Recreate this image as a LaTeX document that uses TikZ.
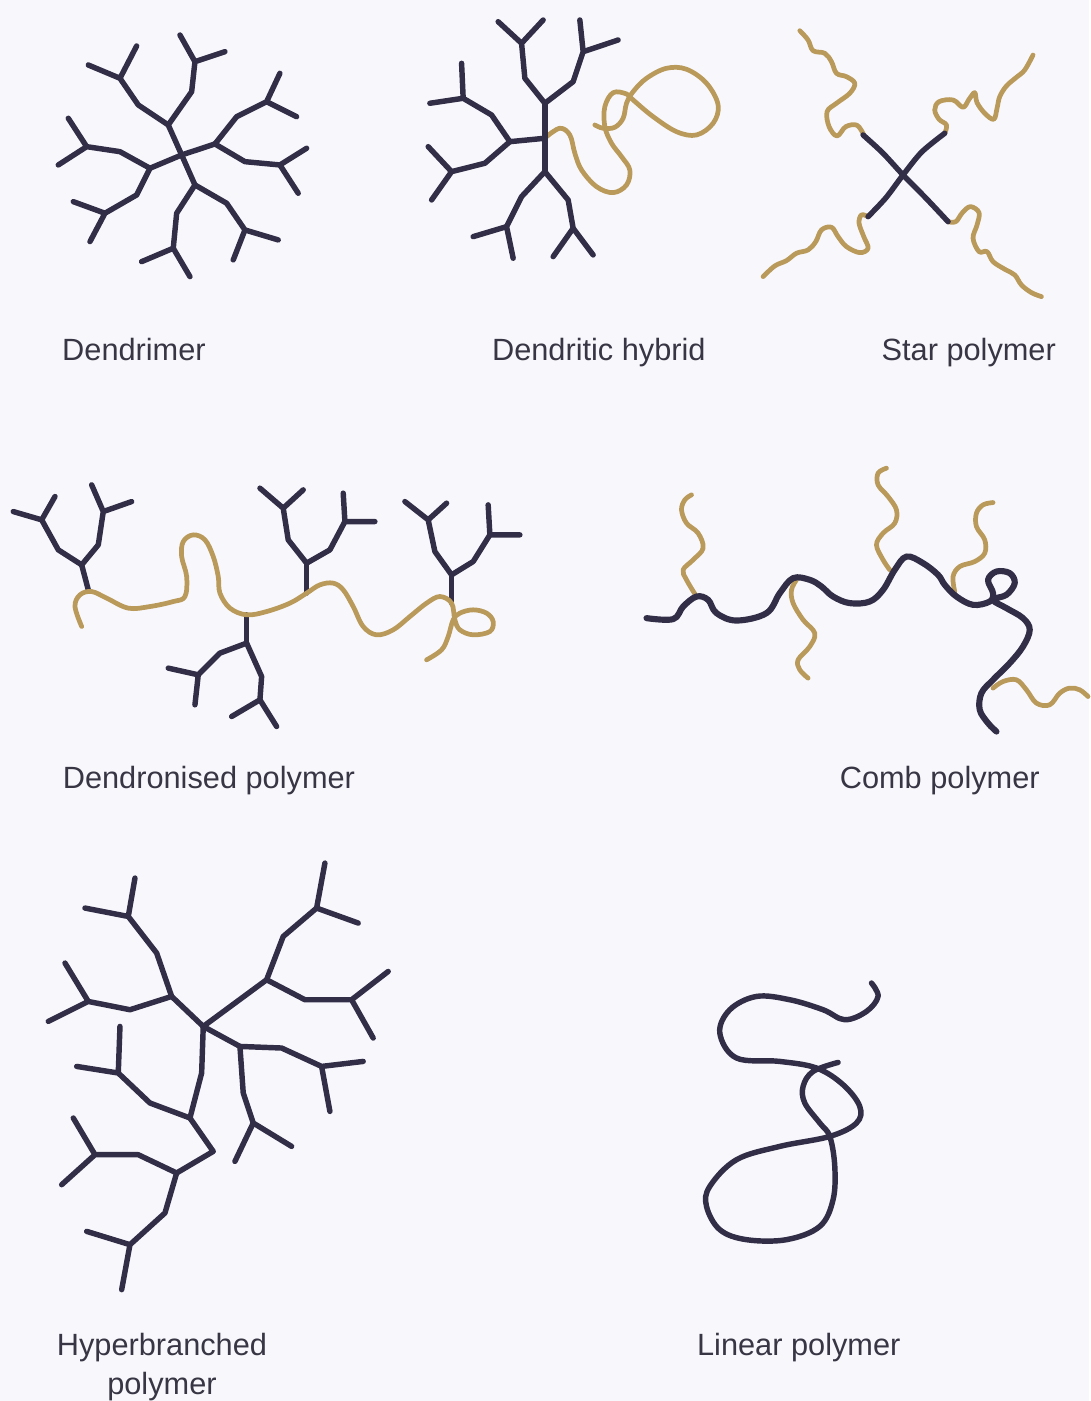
\documentclass[tikz,border=0pt]{standalone}
\usepackage{fontspec}
\setmainfont{Liberation Sans}
\definecolor{paper}{RGB}{248,248,252}
\definecolor{navy}{RGB}{50,46,72}
\definecolor{ochre}{RGB}{186,154,90}
\definecolor{ink}{RGB}{56,53,68}

\begin{document}
\begin{tikzpicture}[x=0.02cm,y=-0.02cm,
  core/.style={draw=navy,line width=3.1pt,line join=round,line cap=round},
  chain/.style={draw=ochre,line width=2.7pt,line join=round,line cap=round},
  tag/.style={text=ink,font=\fontsize{17.5}{21}\selectfont,anchor=base,inner sep=0pt}]
  \fill[paper] (0,0) rectangle (1089,1401);

  % dendrimer
  \draw[core] (150,168.3) -- (181.7,155) -- (215,144);
  \draw[core] (168.3,125) -- (181.7,155) -- (195,185);
  \draw[core] (168.3,125) -- (138.3,105) -- (120,78.3) (88.3,65) -- (120,78.3) -- (136.7,46);
  \draw[core] (168.3,125) -- (191.7,91.7) -- (195,61.7) (180,35) -- (195,61.7) -- (225,51.7);
  \draw[core] (215,144) -- (236.7,116.7) -- (266.7,101.7) (280,73.3) -- (266.7,101.7) -- (296.7,116.7);
  \draw[core] (215,144) -- (245,161.7) -- (280,165) (306.7,148.3) -- (280,165) -- (298.3,193.3);
  \draw[core] (195,185) -- (226.7,203.3) -- (245,230) (278.3,240) -- (245,230) -- (233.3,260);
  \draw[core] (195,185) -- (176.7,213.3) -- (173.3,248.3) (141.7,261.7) -- (173.3,248.3) -- (190,276.7);
  \draw[core] (150,168.3) -- (136.7,195) -- (105,213.3) (73.3,201.7) -- (105,213.3) -- (90,241.7);
  \draw[core] (150,168.3) -- (120,151.7) -- (86.7,146.7) (68.3,118.3) -- (86.7,146.7) -- (58.3,165);
  \node[tag] (dendrimer) at (134,361) {Dendrimer};

  % dendritic hybrid
  \draw[chain] plot[smooth,tension=0.6] coordinates {(546.7,136.7) (560,128.3) (570,135) (575,153.3)
    (581.7,170) (596.7,186.7) (613.3,192.7) (626.7,185) (630,170) (621.7,156.7) (611.7,143.3)
    (605,126.7) (605,106.7) (613.3,92.7) (626.7,94) (633.3,100) (653.3,116.7) (676.7,131.7)
    (696.7,135) (713.3,123.3) (718.3,105) (706.7,83.3) (686.7,69.3) (666.7,68.3) (646.7,78.3)
    (633.3,91.7) (626.7,103.3) (623.3,118.3) (615,127.3) (603.3,128.3) (595,125)};
  \draw[core] (545,103.3) -- (545,171.7);
  \draw[core] (510,141.7) -- (545,138.3);
  \draw[core] (545,103.3) -- (525,78.3) -- (521.7,43.3) (498.3,21.7) -- (521.7,43.3) -- (543.3,20);
  \draw[core] (545,103.3) -- (573.3,81.7) -- (583.3,51.7) (580,20) -- (583.3,51.7) -- (618.3,40);
  \draw[core] (510,141.7) -- (491.7,115) -- (463.3,98.3) (461.7,63.3) -- (463.3,98.3) -- (430,103.3);
  \draw[core] (510,141.7) -- (485,163.3) -- (451.7,171.7) (428.3,146.7) -- (451.7,171.7) -- (431.7,200);
  \draw[core] (545,171.7) -- (521.7,196.7) -- (506.7,226.7) (473.3,236.7) -- (506.7,226.7) -- (513.3,258.3);
  \draw[core] (545,171.7) -- (568.3,200) -- (573.3,228.3) (553.3,256.7) -- (573.3,228.3) -- (593.3,255);
  \node[tag] (hybrid) at (599,361) {Dendritic hybrid};

  % star polymer
  \draw[chain] plot[smooth,tension=0.6] coordinates {(864,135) (857.3,125.3) (846,126.7) (837.3,136)
    (829.3,126.7) (827.3,111.7) (836.7,103.3) (850,93.3) (855,83.3) (846.7,76.7) (836.7,73.3)
    (831.7,61.7) (825,53.3) (813.3,50.7) (808.3,40) (800,30.7)};
  \draw[chain] plot[smooth,tension=0.6] coordinates {(945,133.3) (946.7,125) (939.3,119.3) (935,110)
    (939.3,101.7) (953.3,100) (963.3,107.3) (969.3,99.3) (975,92.7) (977.3,102.7) (985,113.3)
    (994,119.3) (997.3,108.3) (1000,96.7) (1006.7,86) (1016.7,77.3) (1025,70) (1033.3,55)};
  \draw[chain] plot[smooth,tension=0.6] coordinates {(868.3,216.7) (861.7,215) (859.3,223.3) (864,236.7)
    (868.3,248.3) (860,252.7) (846.7,246.7) (838.3,236.7) (831.7,227.3) (821.7,230) (816,241.7)
    (808.3,250) (796.7,253.3) (786.7,260.7) (775,266) (763.3,276.7)};
  \draw[chain] plot[smooth,tension=0.6] coordinates {(948.3,221.7) (956,221.7) (962.7,212.7) (970.7,206.7)
    (979.3,212.7) (977.3,225) (973.3,238.3) (979.3,251.7) (987.3,251.7) (993.3,261.7) (1005,269.3)
    (1015,275) (1021.7,285) (1031.7,292.7) (1041.7,296.7)};
  \draw[core] plot[smooth] coordinates {(863.3,135) (883,153) (903.3,175) (926,198) (948.3,221.7)};
  \draw[core] plot[smooth] coordinates {(945,133.3) (922,152) (903.3,175) (886,198) (868.3,216.7)};
  \node[tag] (star) at (969,361) {Star polymer};

  % dendronised polymer
  \draw[core] (88.3,590) -- (81.7,565);
  \draw[core] (81.7,565) -- (58.3,550) -- (41.7,520) (13.3,511.7) -- (41.7,520) -- (55,496.7);
  \draw[core] (81.7,565) -- (98.3,545) -- (103.3,511.7) (91.7,485) -- (103.3,511.7) -- (131.7,501.7);
  \draw[core] (306.7,593.3) -- (306.7,563.3);
  \draw[core] (306.7,563.3) -- (288.3,540) -- (283.3,508.3) (260,488.3) -- (283.3,508.3) -- (303.3,490);
  \draw[core] (306.7,563.3) -- (330,550) -- (345,521.7) (343.3,493.3) -- (345,521.7) -- (375,521.7);
  \draw[core] (451.7,603.3) -- (451.7,575);
  \draw[core] (451.7,575) -- (435,551.7) -- (428.3,520) (405,501.7) -- (428.3,520) -- (446.7,503.3);
  \draw[core] (451.7,575) -- (473.3,561.7) -- (490,535) (488.3,505) -- (490,535) -- (520,535);
  \draw[core] (246.7,615) -- (246.7,643.3);
  \draw[core] (246.7,643.3) -- (220,653.3) -- (198.3,675) (168.3,668.3) -- (198.3,675) -- (195,705);
  \draw[core] (246.7,643.3) -- (261.7,676.7) -- (260,700) (231.7,716.7) -- (260,700) -- (276.7,726.7);
  \draw[chain] plot[smooth,tension=0.6] coordinates {(81.7,626.7) (75,606.7) (80,595) (91.7,591.7)
    (106.7,598.3) (128.3,608.3) (150,606.7) (173.3,601.7) (185,596.7) (186.7,576.7) (181.7,556.7)
    (183.3,541.7) (193.3,535) (205,540) (213.3,556.7) (218.3,576.7) (220,593.3) (230,608.3)
    (246.7,615) (266.7,611.7) (290,603.3) (306.7,593.3) (320,585) (333.3,583.3) (343.3,590)
    (353.3,606.7) (363.3,626.7) (376.7,635) (393.3,630) (410,616.7) (426.7,603.3) (440,596.7)
    (451.7,603.3) (455,620) (460,630) (473.3,635) (490,631.7) (493.3,621.7) (486.7,613.3)
    (473.3,610) (460,613.3) (453.3,620) (448.3,636.7) (441.7,650) (426.7,660)};
  \node[tag] (dendronised) at (209,789) {Dendronised polymer};

  % comb polymer
  \draw[chain] plot[smooth,tension=0.6] coordinates {(696.7,596.7) (686.7,580) (683.3,570) (693.3,560)
    (703.3,548.3) (698.3,533.3) (686.7,523.3) (681.7,510) (685,500) (691.7,495)};
  \draw[chain] plot[smooth,tension=0.6] coordinates {(796.7,580) (791.7,590) (793.3,603.3) (803.3,620)
    (815,633.3) (810,646.7) (798.3,660) (800,670) (808.3,678.3)};
  \draw[chain] plot[smooth,tension=0.6] coordinates {(890,570) (883.3,560) (876.7,545) (883.3,533.3)
    (895,523.3) (896.7,510) (888.3,496.7) (878.3,485) (878.3,473.3) (886.7,468.3)};
  \draw[chain] plot[smooth,tension=0.6] coordinates {(955,591.7) (953.3,576.7) (960,566.7) (975,561.7)
    (985,553.3) (985,540) (976.7,526.7) (976.7,513.3) (983.3,505) (993.3,502.7)};
  \draw[chain] plot[smooth,tension=0.6] coordinates {(993.3,688.3) (1003.3,681.7) (1016.7,680) (1026.7,690)
    (1036.7,703.3) (1050,705) (1060,693.3) (1070,688.3) (1080,690) (1088.3,696.7)};
  \draw[core,line width=3.5pt] plot[smooth,tension=0.6] coordinates {(646.7,618.3) (673.3,619.3)
    (683.3,606.7) (696.7,596.7) (708.3,600) (716.7,613.3) (736.7,620.7) (766.7,613.3) (780,593.3)
    (793.3,578.3) (810,580) (821.7,586.7) (833.3,596.7) (850,603.3) (870,601.7) (883.3,590)
    (895,570) (906.7,556.7) (923.3,563.3) (938.3,575) (945,585) (956.7,596.7) (973.3,605)
    (990,601.7) (993.3,593.3) (988.3,580) (996.7,571.7) (1010,573.3) (1015,583.3) (1006.7,595)
    (993.3,600) (1006.7,608.3) (1023.3,618.3) (1030,630) (1023.3,646.7) (1010,663.3) (993.3,680)
    (981.7,693.3) (980,710) (988.3,723.3) (996.7,731.7)};
  \node[tag] (comb) at (940,789) {Comb polymer};

  % hyperbranched polymer
  \draw[core] (203.3,1026.7) -- (171.7,996.7) -- (156.7,953.3) -- (128.3,916.7) (85,908.3) -- (128.3,916.7) -- (135,878.3);
  \draw[core] (171.7,996.7) -- (130,1010) -- (88.3,1001.7) (65,963.3) -- (88.3,1001.7) -- (48.3,1021.7);
  \draw[core] (203.3,1026.7) -- (266.7,980) -- (283.3,936.7) -- (316.7,908.3) (325,863.3) -- (316.7,908.3) -- (358.3,923.3);
  \draw[core] (266.7,980) -- (305,1000) -- (351.7,1000) (388.3,971.7) -- (351.7,1000) -- (373.3,1038.3);
  \draw[core] (203.3,1026.7) -- (240,1046.7) -- (281.7,1048.3) -- (321.7,1066.7) (363.3,1061.7) -- (321.7,1066.7) -- (330,1111.7);
  \draw[core] (240,1046.7) -- (243.3,1093.3) -- (253.3,1123.3) (291.7,1146.7) -- (253.3,1123.3) -- (235,1161.7);
  \draw[core] (203.3,1026.7) -- (201.7,1073.3) -- (190,1118.3) -- (213.3,1151.7) -- (176.7,1173.3);
  \draw[core] (190,1118.3) -- (150,1103.3) -- (118.3,1073.3) (76.7,1066.7) -- (118.3,1073.3) -- (120,1026.7);
  \draw[core] (176.7,1173.3) -- (138.3,1155) -- (95,1155) (73.3,1118.3) -- (95,1155) -- (61.7,1185);
  \draw[core] (176.7,1173.3) -- (165,1213.3) -- (130,1245) (86.7,1231.7) -- (130,1245) -- (121.7,1290);
  \node[tag] (hyper) at (162,1356) {Hyperbranched};
  \node[tag] (hyperb) at (162,1395) {polymer};

  % linear polymer
  \draw[core] plot[smooth,tension=0.6] coordinates {(871.7,983.3) (878.3,996.7) (866.7,1011.7)
    (845,1020) (823.3,1010) (790,1000) (756.7,996.7) (730,1010) (720,1033.3) (736.7,1058.3)
    (780,1061.7) (816.7,1068.3) (843.3,1085) (860,1106.7) (856.7,1123.3) (830,1136.7)
    (780,1146.7) (736.7,1160) (710,1186.7) (706.7,1206.7) (720,1230) (746.7,1240) (786.7,1240)
    (820,1226.7) (833.3,1200) (835,1166.7) (830,1136.7) (820,1123.3) (805,1103.3) (803.3,1086.7)
    (813.3,1071.7) (838.3,1062.7)};
  \node[tag] (linear) at (799,1356) {Linear polymer};
\end{tikzpicture}
\end{document}
